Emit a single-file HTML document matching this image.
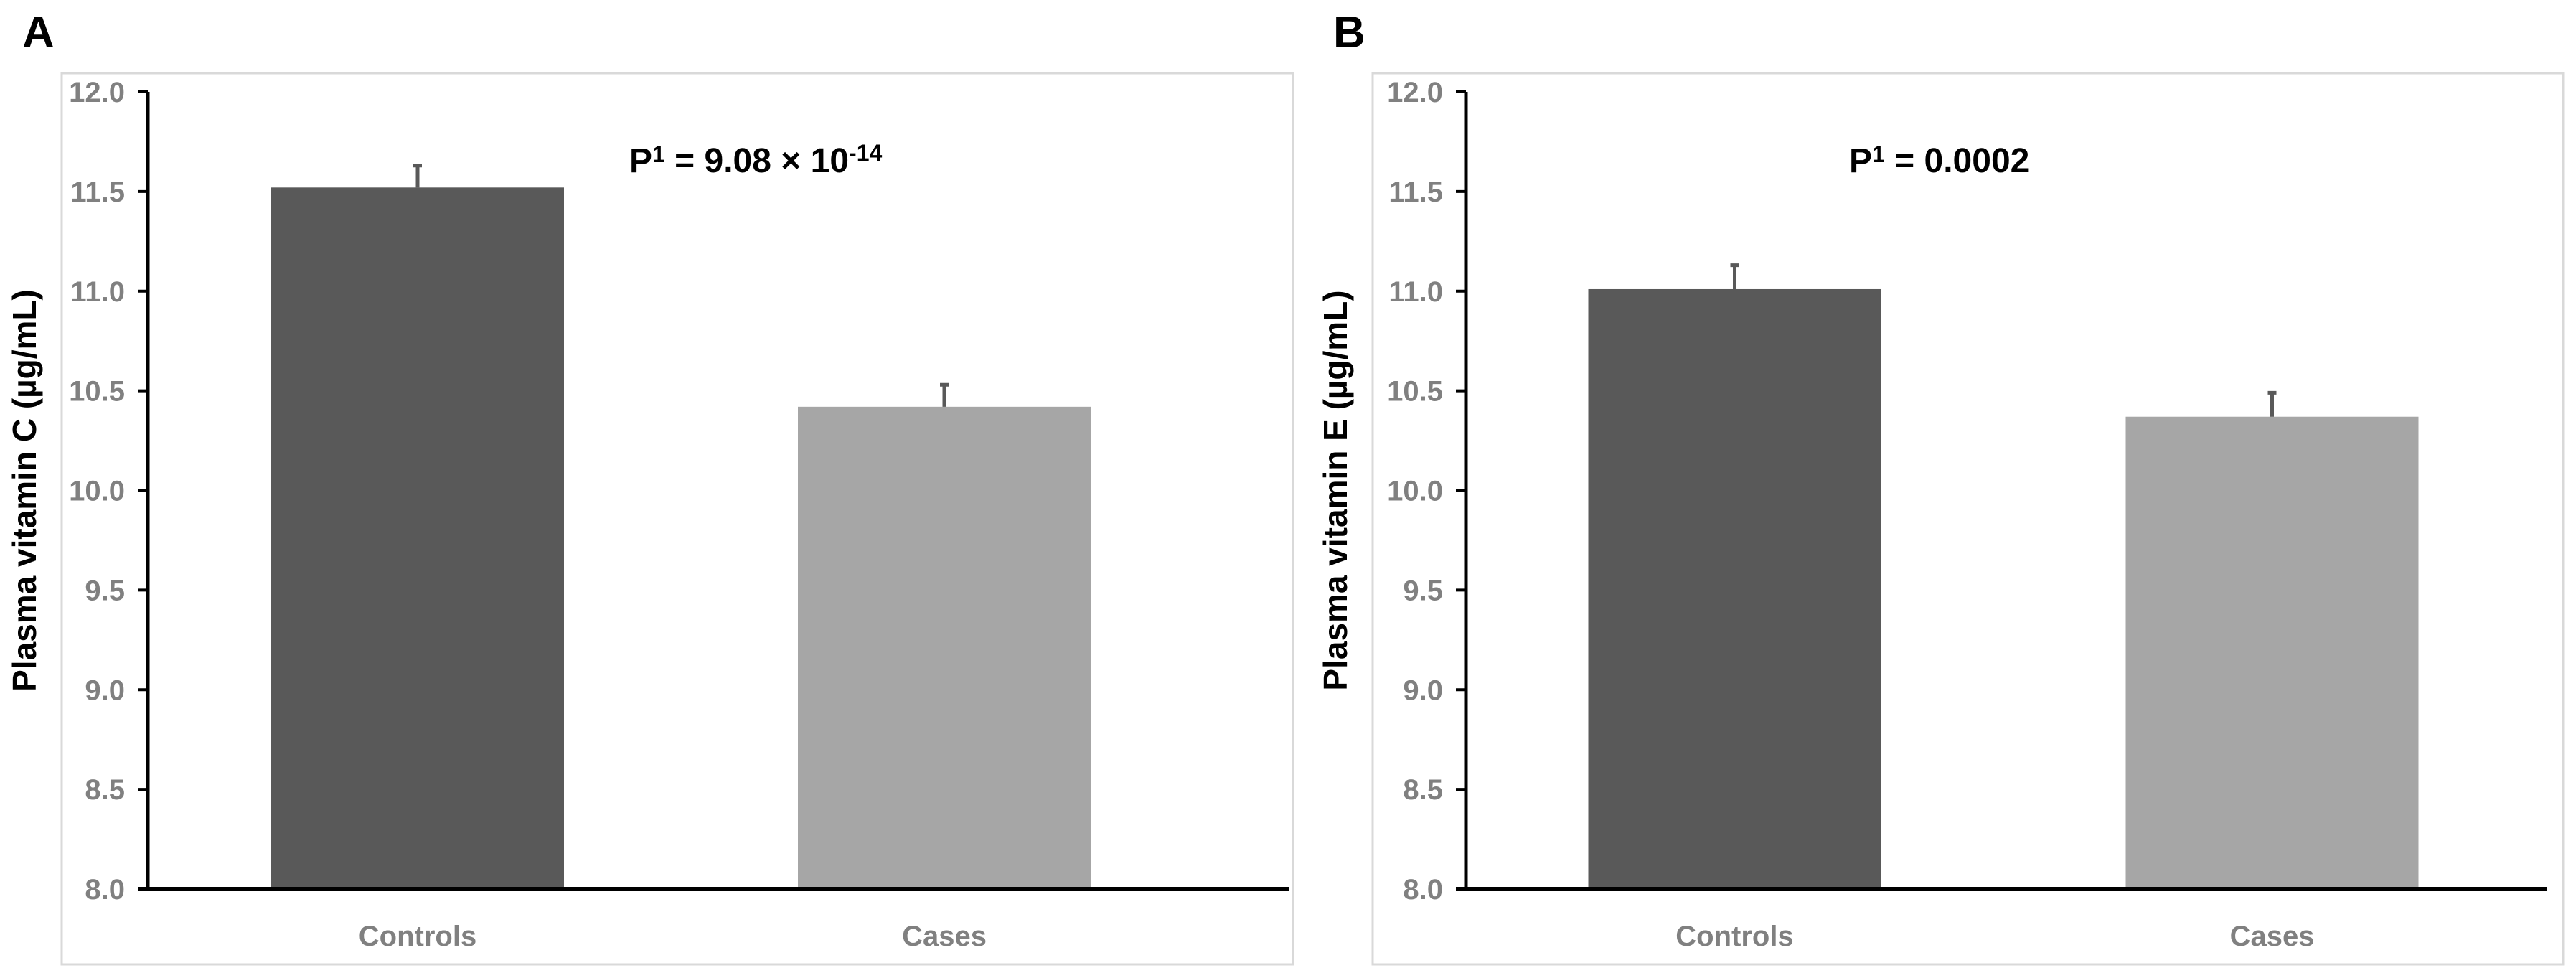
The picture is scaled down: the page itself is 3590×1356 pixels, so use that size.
<!DOCTYPE html>
<html><head><meta charset="utf-8"><style>
html,body{margin:0;padding:0;background:#fff;}
svg{display:block;font-family:"Liberation Sans Narrow","Liberation Sans",sans-serif;}
</style></head><body>
<svg id="chart" width="3590" height="1356" viewBox="0 0 3590 1356" xmlns="http://www.w3.org/2000/svg"></svg>
<script>
const categories = ["Controls", "Cases"];
const vitCMeans = [11.52, 10.42];
const vitCErr = [0.11, 0.11];
const vitEMeans = [11.01, 10.37];
const vitEErr = [0.12, 0.12];
const yTicks = [8.0, 8.5, 9.0, 9.5, 10.0, 10.5, 11.0, 11.5, 12.0];
const barColors = ["#595959", "#a6a6a6"];

const NS = "http://www.w3.org/2000/svg";
const svg = document.getElementById("chart");
function mk(tag, attrs, parent, text) {
  const e = document.createElementNS(NS, tag);
  for (const k in attrs) e.setAttribute(k, attrs[k]);
  if (text !== undefined) e.textContent = text;
  (parent || svg).appendChild(e);
  return e;
}

function panel(opts) {
  const g = mk("g", {});
  
  
  const yTop = 128, yBot = 1239, ax = opts.axisX, axEnd = opts.axisEnd;
  const y = v => yBot - (v - 8) / 4 * (yBot - yTop);
  const frame = mk("rect", {x: opts.frameL, y: 102, width: opts.frameR - opts.frameL, height: 1242, fill: "none", stroke: "#d9d9d9", "stroke-width": 3}, g);
  
  
  const lab = mk("text", {x: opts.frameL - 55, y: 66, "font-size": 62, "font-weight": "bold", fill: "#000"}, g, opts.letter);
  
  
  const band = opts.band;
  const bw = 408;
  categories.forEach((c, i) => {
    const cx = ax + opts.offset + band * (i + 0.5);
    const v = opts.means[i];
    const bar = mk("rect", {x: cx - bw / 2, y: y(v), width: bw, height: yBot - y(v), fill: barColors[i]}, g);
    
    
    const et = y(v + opts.err[i]);
    const eb = mk("path", {d: `M${cx} ${y(v)}V${et}M${cx - 6} ${et}H${cx + 6}`, stroke: "#595959", "stroke-width": 5, fill: "none"}, g);
    
    
    const xl = mk("text", {x: cx, y: 1318, "font-size": 40, "font-weight": "bold", fill: "#808080", "text-anchor": "middle"}, g, c);
    
    
  });
  yTicks.forEach(t => {
    const tk = mk("line", {x1: ax - 14, x2: ax, y1: y(t), y2: y(t), stroke: "#000", "stroke-width": 4}, g);
    
    
    const tl = mk("text", {x: ax - 32, y: y(t) + 14, "font-size": 40, "font-weight": "bold", fill: "#808080", "text-anchor": "end"}, g, t.toFixed(1));
    
    
  });
  const ya = mk("line", {x1: ax, x2: ax, y1: yTop, y2: yBot + 2, stroke: "#000", "stroke-width": 5}, g);
  
  
  const xa = mk("line", {x1: ax - 14, x2: axEnd, y1: yBot, y2: yBot, stroke: "#000", "stroke-width": 6}, g);
  
  
  const yt = mk("text", {x: 0, y: 0, "font-size": 46, "font-weight": "bold", fill: "#000", "text-anchor": "middle", transform: `translate(${opts.frameL - 36},${(yTop + yBot) / 2}) rotate(-90)`, "font-family": "Liberation Sans, sans-serif"}, g, opts.ytitle);
  
  
  const p = mk("text", {x: opts.pX, y: 240, "font-size": 48, "font-weight": "bold", fill: "#000"}, g);
  
  
  p.innerHTML = opts.pHtml;
}

panel({name: "panel-a-vitamin-c", letter: "A", frameL: 86, frameR: 1802, axisX: 206, axisEnd: 1797, band: 734, offset: 9,
  means: vitCMeans, err: vitCErr, ytitle: "Plasma vitamin C (µg/mL)", pX: 877,
  pHtml: 'P<tspan dy="-14" font-size="32">1</tspan><tspan dy="14"> = 9.08 × 10</tspan><tspan dy="-16" font-size="32">-14</tspan>'});
panel({name: "panel-b-vitamin-e", letter: "B", frameL: 1913, frameR: 3572, axisX: 2043, axisEnd: 3549, band: 749, offset: 0,
  means: vitEMeans, err: vitEErr, ytitle: "Plasma vitamin E (µg/mL)", pX: 2577,
  pHtml: 'P<tspan dy="-14" font-size="32">1</tspan><tspan dy="14"> = 0.0002</tspan>'});
</script>
</body></html>
